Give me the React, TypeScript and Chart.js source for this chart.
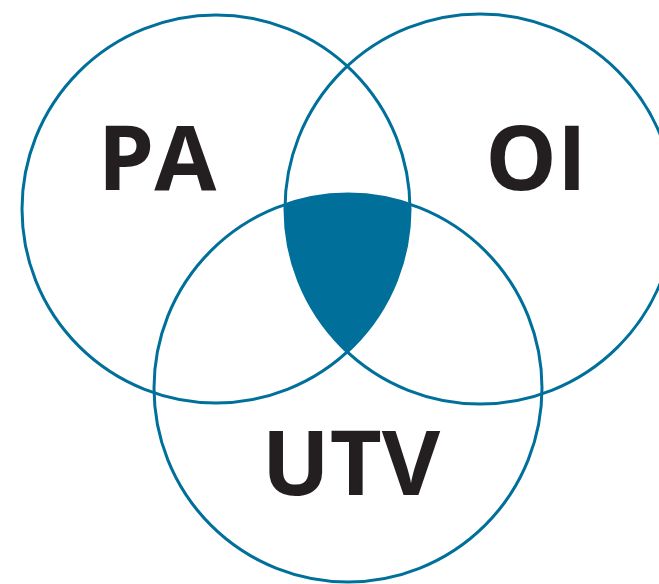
import React, { useEffect, useRef } from "react";
import { Chart, registerables } from "chart.js";

Chart.register(...registerables);

// Sets of the Venn diagram (data units = page pixels, y downward; scale is 1:1)
const setNames = ["PA", "OI", "UTV"];
const centerX = [216, 480, 348];
const centerY = [209, 209, 388];
const radii = [194, 195, 194];

// Label anchor points (centre x, text baseline y)
const labelX = [157, 536, 351];
const labelY = [190, 190, 495];

const BLUE = "#00709b";
const INK = "#231f20";

const intersectionPlugin = {
  id: "tripleIntersection",
  beforeDatasetsDraw(chart: any) {
    const meta = chart.getDatasetMeta(0);
    const ctx = chart.ctx;
    ctx.save();
    meta.data.forEach((el: any) => {
      ctx.beginPath();
      ctx.arc(el.x, el.y, el.options.radius, 0, Math.PI * 2);
      ctx.clip();
    });
    ctx.fillStyle = BLUE;
    ctx.fillRect(0, 0, chart.width, chart.height);
    ctx.restore();
  },
};

const labelPlugin = {
  id: "setLabels",
  afterDatasetsDraw(chart: any) {
    const ctx = chart.ctx;
    const xs = chart.scales.x;
    const ys = chart.scales.y;
    ctx.save();
    ctx.fillStyle = INK;
    ctx.font = "bold 90px 'Open Sans'";
    ctx.textAlign = "center";
    ctx.textBaseline = "alphabetic";
    setNames.forEach((name, i) => {
      ctx.fillText(name, xs.getPixelForValue(labelX[i]), ys.getPixelForValue(labelY[i]));
    });
    ctx.restore();
  },
};

export default function App() {
  const ref = useRef<HTMLCanvasElement | null>(null);
  useEffect(() => {
    if (!ref.current) return;
    const chart = new Chart(ref.current, {
      type: "bubble",
      data: {
        datasets: [
          {
            label: "Sets",
            data: setNames.map((_, i) => ({ x: centerX[i], y: centerY[i], r: radii[i] })),
            backgroundColor: "rgba(0,0,0,0)",
            borderColor: BLUE,
            borderWidth: 3,
            hoverBorderWidth: 3,
            clip: false,
          } as any,
        ],
      },
      options: {
        responsive: false,
        animation: false,
        events: [],
        layout: { padding: 0, autoPadding: false },
        plugins: { legend: { display: false }, tooltip: { enabled: false } },
        scales: {
          x: { type: "linear", min: 0, max: 659, display: false },
          y: { type: "linear", min: 0, max: 584, reverse: true, display: false },
        },
      },
      plugins: [intersectionPlugin, labelPlugin],
    });
    return () => chart.destroy();
  }, []);
  return (
    <div style={{ position: "absolute", left: 0, top: 0, width: 659, height: 584, background: "#fff" }}>
      <canvas ref={ref} width={659} height={584} style={{ display: "block" }} />
    </div>
  );
}
